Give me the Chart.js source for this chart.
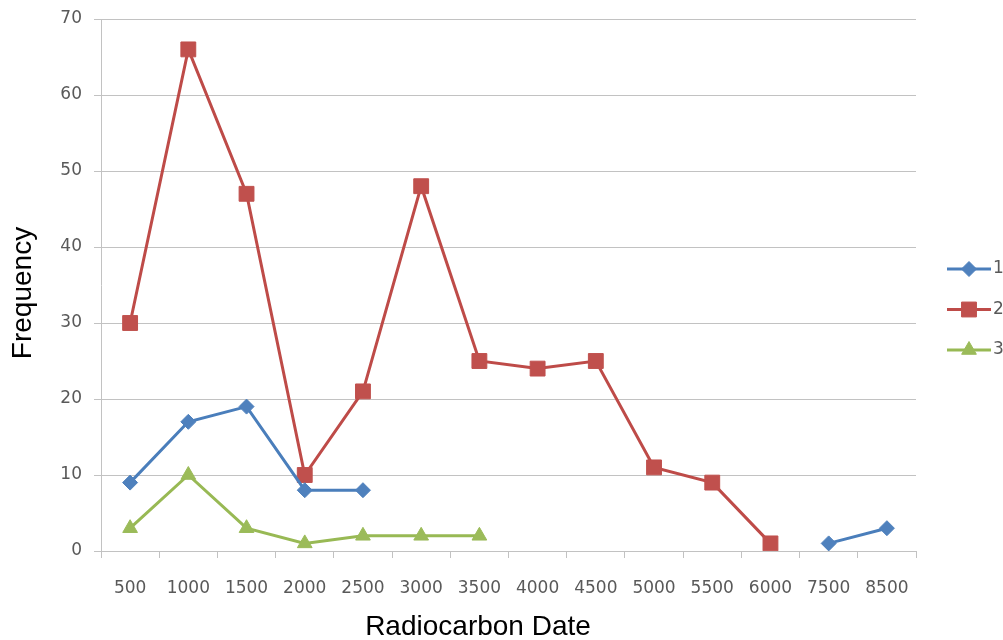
<!DOCTYPE html>
<html>
<head>
<meta charset="utf-8">
<title>Radiocarbon Date frequency</title>
<script src="https://cdn.jsdelivr.net/npm/chart.js@4.4.1/dist/chart.umd.min.js"></script>
<style>
    html, body { margin: 0; padding: 0; background: #ffffff; }
    #wrap { width: 1003px; height: 640px; }
</style>
</head>
<body>
<div id="wrap"><canvas id="radioChart" width="1003" height="640"></canvas></div>
<script>
// ===================================
// DATA
// ===================================

const dateLabels = ['500', '1000', '1500', '2000', '2500', '3000', '3500', '4000', '4500', '5000', '5500', '6000', '7500', '8500'];
const seriesNames = ['1', '2', '3'];
const series1 = [9, 17, 19, 8, 8, null, null, null, null, null, null, null, 1, 3];
const series2 = [30, 66, 47, 10, 21, 48, 25, 24, 25, 11, 9, 1, null, null];
const series3 = [3, 10, 3, 1, 2, 2, 2, null, null, null, null, null, null, null];
const yTickValues = [0, 10, 20, 30, 40, 50, 60, 70];

// ===================================
// PLUGINS (side legend + axis titles)
// ===================================

// Excel-style legend: short line with the marker in the middle
const sideLegend = {
    id: 'sideLegend',
    afterDraw(chart) {
        const ctx = chart.ctx;
        chart.data.datasets.forEach((ds, i) => {
            const y = 269 + i * 40.5;
            ctx.save();
            ctx.strokeStyle = ds.borderColor;
            ctx.lineWidth = 3;
            ctx.beginPath();
            ctx.moveTo(947, y);
            ctx.lineTo(991, y);
            ctx.stroke();

            ctx.fillStyle = ds.pointBackgroundColor;
            ctx.strokeStyle = ds.pointBorderColor;
            ctx.lineWidth = 1;
            Chart.helpers.drawPoint(ctx, {
                pointStyle: ds.pointStyle,
                radius: ds.pointRadius,
                rotation: 0,
                borderWidth: 1
            }, 969, y);

            ctx.fillStyle = '#595959';
            ctx.font = '17px "DejaVu Sans"';
            ctx.textBaseline = 'middle';
            ctx.textAlign = 'left';
            ctx.fillText(ds.label, 993, y);
            ctx.restore();
        });
    }
};

// Axis titles sit a little off the plot centre in the original
const axisTitles = {
    id: 'axisTitles',
    afterDraw(chart) {
        const ctx = chart.ctx;
        ctx.save();
        ctx.fillStyle = '#000000';
        ctx.font = '28px "Liberation Sans", Arial, sans-serif';
        ctx.textAlign = 'center';
        ctx.textBaseline = 'alphabetic';
        ctx.fillText('Radiocarbon Date', 478, 635);

        ctx.translate(31, 293);
        ctx.rotate(-Math.PI / 2);
        ctx.fillText('Frequency', 0, 0);
        ctx.restore();
    }
};

// ===================================
// CHART
// ===================================

Chart.defaults.font.family = '"DejaVu Sans", Verdana, sans-serif';

function makeSeries(label, data, lineColor, markColor, style, radius) {
    return {
        label: label,
        data: data,
        borderColor: lineColor,
        borderWidth: 3,
        pointStyle: style,
        pointRadius: radius,
        pointHoverRadius: radius,
        pointBackgroundColor: markColor,
        pointBorderColor: markColor,
        pointBorderWidth: 1,
        tension: 0,
        spanGaps: false,
        fill: false
    };
}

const gridColor = '#c2c2c2';

const radioChart = new Chart(document.getElementById('radioChart').getContext('2d'), {
    type: 'line',
    data: {
        labels: dateLabels,
        datasets: [
            makeSeries(seriesNames[0], series1, '#4a7ebb', '#4f81bd', 'rectRot', 7.5),
            makeSeries(seriesNames[1], series2, '#be4b48', '#c0504d', 'rect', 10.5),
            makeSeries(seriesNames[2], series3, '#98b954', '#9bbb59', 'triangle', 8.5)
        ]
    },
    options: {
        responsive: false,
        animation: false,
        layout: {
            padding: { top: 19, right: 87, bottom: 0, left: 0 }
        },
        plugins: {
            legend: { display: false },
            tooltip: { enabled: false }
        },
        scales: {
            x: {
                type: 'category',
                offset: true,
                grid: {
                    offset: true,
                    drawOnChartArea: false,
                    drawTicks: true,
                    tickLength: 7,
                    color: gridColor
                },
                border: { display: true, color: gridColor, width: 1 },
                ticks: {
                    color: '#595959',
                    font: { size: 17 },
                    padding: 20,
                    maxRotation: 0,
                    autoSkip: false
                },
                afterFit(scale) { scale.height = 89; }
            },
            y: {
                min: yTickValues[0],
                max: yTickValues[yTickValues.length - 1],
                afterBuildTicks(scale) {
                    scale.ticks = yTickValues.map(v => ({ value: v }));
                },
                grid: {
                    color: gridColor,
                    drawTicks: true,
                    tickLength: 7
                },
                border: { display: true, color: gridColor, width: 1 },
                ticks: {
                    color: '#595959',
                    font: { size: 17 },
                    padding: 12
                },
                afterFit(scale) {
                    scale.width = 101;
                    // keep the plot top where the layout padding puts it
                    scale.paddingTop = 0;
                    scale.paddingBottom = 0;
                }
            }
        }
    },
    plugins: [sideLegend, axisTitles]
});
</script>
</body>
</html>
